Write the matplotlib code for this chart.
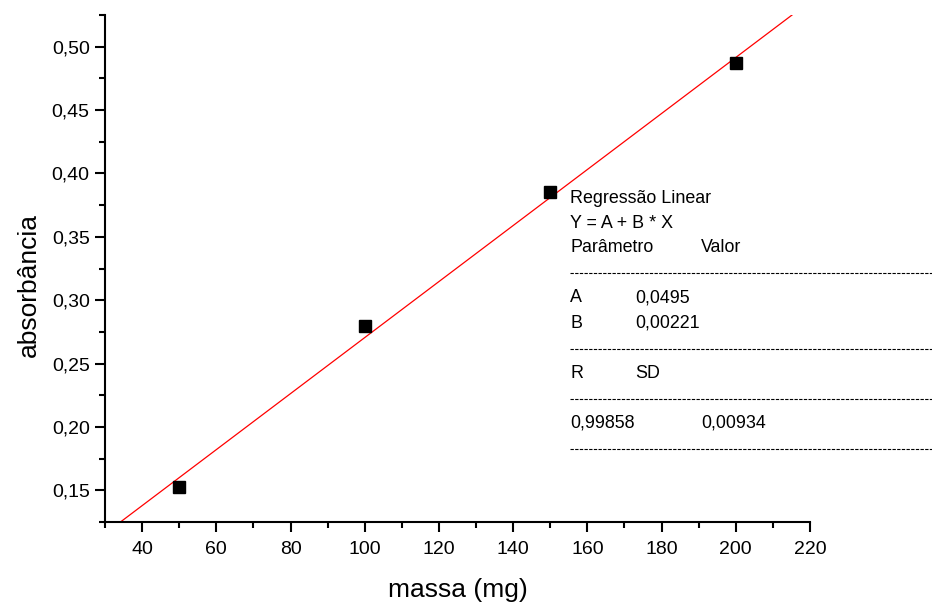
import matplotlib
matplotlib.use("Agg")
import matplotlib.pyplot as plt
from matplotlib.lines import Line2D
from matplotlib.ticker import MultipleLocator, FuncFormatter
import numpy as np

plt.rcParams['font.family'] = ['Liberation Sans', 'DejaVu Sans']

# Data
massa = [50, 100, 150, 200]
absorbancia = [0.153, 0.280, 0.385, 0.487]
fit_A = 0.0495
fit_B = 0.00221
fit_R = "0,99858"
fit_SD = "0,00934"

fig = plt.figure(figsize=(9.32, 6.03), dpi=100)
ax = fig.add_axes([105/932, 1-522/603, 705/932, 507/603])

xmin, xmax = 30, 220
ymin, ymax = 0.125, 0.525

# fitted line across the plotting area (clipped)
xl = np.array([xmin, xmax])
ax.plot(xl, fit_A + fit_B * xl, color='#ff0000', lw=0.9, zorder=2)
ax.plot(massa, absorbancia, 's', color='black', markersize=8.5, zorder=3)

ax.set_xlim(xmin, xmax)
ax.set_ylim(ymin, ymax)

for s in ['top', 'right']:
    ax.spines[s].set_visible(False)
for s in ['left', 'bottom']:
    ax.spines[s].set_linewidth(1.5)

ax.xaxis.set_major_locator(MultipleLocator(20))
ax.xaxis.set_minor_locator(MultipleLocator(10))
ax.yaxis.set_major_locator(MultipleLocator(0.05))
ax.yaxis.set_minor_locator(MultipleLocator(0.025))
ax.yaxis.set_major_formatter(FuncFormatter(lambda v, p: f"{v:.2f}".replace('.', ',')))
ax.xaxis.set_major_formatter(FuncFormatter(lambda v, p: f"{v:.0f}"))

ax.tick_params(which='major', direction='out', length=7, width=1.5, labelsize=14, pad=4)
ax.tick_params(which='minor', direction='out', length=4, width=1.5)
ax.tick_params(axis='x', which='major', pad=7)

ax.set_xlabel('massa (mg)', fontsize=19)
ax.xaxis.set_label_coords(0.5, -0.134)
ax.xaxis.label.set_verticalalignment('center')
ax.set_ylabel('absorbância', fontsize=19)
ax.yaxis.set_label_coords(-0.108, 0.467)
ax.yaxis.label.set_verticalalignment('center')

# Regression info block
def fx(px):
    return px / 932
def fy(py):
    return 1 - py / 603

fs = 12.9
rows = [
    (198, [(570, 'Regressão Linear')]),
    (223, [(570, 'Y = A + B * X')]),
    (248, [(570, 'Parâmetro'), (701, 'Valor')]),
    (298, [(570, 'A'), (635, f"{fit_A:.4f}".replace('.', ','))]),
    (323, [(570, 'B'), (635, f"{fit_B:.5f}".replace('.', ','))]),
    (373, [(570, 'R'), (635, 'SD')]),
    (423, [(570, fit_R), (701, fit_SD)]),
]
for py, items in rows:
    for px, txt in items:
        fig.text(fx(px), fy(py), txt, fontsize=fs, ha='left', va='center')

for py in [273, 349, 399, 449]:
    fig.add_artist(Line2D([fx(570), fx(932)], [fy(py), fy(py)], color='black',
                          lw=0.8, linestyle=(0, (3.0, 1.2)), transform=fig.transFigure))

fig.savefig('out.png', dpi=100)
